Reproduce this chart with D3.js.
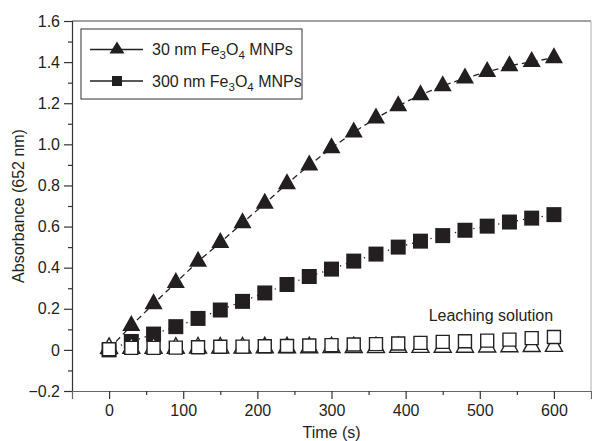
<!DOCTYPE html>
<html>
<head>
<meta charset="utf-8">
<script src="https://cdn.jsdelivr.net/npm/d3@7"></script>
<style>
body { margin: 0; background: #fff; }
text { font-family: "Liberation Sans", Arial, sans-serif; fill: #231f20; }
</style>
</head>
<body>
<script>
// values
var time_s = [0, 30, 60, 90, 120, 150, 180, 210, 240, 270, 300, 330, 360, 390, 420, 450, 480, 510, 540, 570, 600];
var abs_30nm = [0.005, 0.118, 0.224, 0.327, 0.430, 0.522, 0.618, 0.712, 0.808, 0.899, 0.982, 1.059, 1.127, 1.187, 1.241, 1.284, 1.322, 1.353, 1.382, 1.402, 1.421];
var abs_300nm = [0.0, 0.041, 0.077, 0.113, 0.153, 0.194, 0.236, 0.277, 0.318, 0.357, 0.393, 0.432, 0.466, 0.500, 0.529, 0.556, 0.582, 0.602, 0.622, 0.641, 0.658];
var leach_30nm = [0.008, 0.009, 0.009, 0.009, 0.010, 0.010, 0.010, 0.011, 0.011, 0.011, 0.012, 0.012, 0.012, 0.013, 0.013, 0.014, 0.014, 0.015, 0.016, 0.017, 0.018];
var leach_300nm = [0.003, 0.010, 0.010, 0.011, 0.013, 0.015, 0.016, 0.018, 0.019, 0.021, 0.023, 0.026, 0.028, 0.031, 0.034, 0.039, 0.042, 0.045, 0.050, 0.057, 0.063];
var y_ticks = [-0.2, 0, 0.2, 0.4, 0.6, 0.8, 1.0, 1.2, 1.4, 1.6];
var y_minor = [-0.1, 0.1, 0.3, 0.5, 0.7, 0.9, 1.1, 1.3, 1.5];
var x_ticks = [0, 100, 200, 300, 400, 500, 600];
var x_minor = [50, 150, 250, 350, 450, 550];
var legend_labels = [["30 nm Fe", "3", "O", "4", " MNPs"], ["300 nm Fe", "3", "O", "4", " MNPs"]];
var note_text = "Leaching solution";

var W = 592, H = 441;
var p_left = 72, p_right = 591, p_top = 21, p_bottom = 391;
var fs = '16px';

var svg = d3.select('body').append('svg').attr('width', W).attr('height', H);

var xScale = d3.scaleLinear().domain([-50, 650]).range([p_left, p_right]);
var yScale = d3.scaleLinear().domain([-0.2, 1.6]).range([p_bottom, p_top]);

function fmtY(d) {
	if (d === 0) return '0';
	return d < 0 ? '\u2212' + Math.abs(d).toFixed(1) : d.toFixed(1);
}

// frame: top and right borders
svg.append('line').attr('x1', p_left).attr('x2', p_right).attr('y1', p_top).attr('y2', p_top)
	.attr('stroke', '#444').attr('stroke-width', 1.2);
svg.append('line').attr('x1', p_right).attr('x2', p_right).attr('y1', p_top).attr('y2', p_bottom)
	.attr('stroke', '#bbb').attr('stroke-width', 1.2);

// y axis
var yAxis = svg.append('g').attr('transform', 'translate(' + p_left + ',0)')
	.call(d3.axisLeft(yScale).tickValues(y_ticks).tickSize(8).tickPadding(4).tickFormat(fmtY));
svg.append('g').attr('transform', 'translate(' + p_left + ',0)')
	.call(d3.axisLeft(yScale).tickValues(y_minor).tickSize(4).tickFormat(''))
	.select('.domain').remove();

// x axis
var xAxis = svg.append('g').attr('transform', 'translate(0,' + p_bottom + ')')
	.call(d3.axisBottom(xScale).tickValues(x_ticks).tickSize(8).tickPadding(6));
svg.append('g').attr('transform', 'translate(0,' + p_bottom + ')')
	.call(d3.axisBottom(xScale).tickValues(x_minor).tickSize(4).tickFormat(''))
	.select('.domain').remove();

svg.selectAll('.domain').attr('stroke', '#333').attr('stroke-width', 1.2);
xAxis.select('.domain').attr('stroke', '#666');
svg.selectAll('.tick line').attr('stroke', '#333').attr('stroke-width', 1.2);
svg.selectAll('.tick text').attr('font-size', fs).attr('fill', '#231f20')
	.attr('font-family', '"Liberation Sans", Arial, sans-serif');

// axis titles
svg.append('text').text('Time (s)')
	.attr('x', (p_left + p_right) / 2).attr('y', 438).attr('text-anchor', 'middle').attr('font-size', fs);
svg.append('text').text('Absorbance (652 nm)')
	.attr('transform', 'translate(24,' + ((p_top + p_bottom) / 2) + ') rotate(-90)')
	.attr('text-anchor', 'middle').attr('font-size', fs);

// markers
function tri(w, h) {
	return 'M0,' + (-2 * h / 3) + 'L' + (w / 2) + ',' + (h / 3) + 'L' + (-w / 2) + ',' + (h / 3) + 'Z';
}
function sq(s) {
	return 'M' + (-s / 2) + ',' + (-s / 2) + 'h' + s + 'v' + s + 'h' + (-s) + 'Z';
}

var plot = svg.append('g');

function pts(vals) {
	return time_s.map(function(t, i) { return [t, vals[i]]; });
}

var line = d3.line().x(function(d) { return xScale(d[0]); }).y(function(d) { return yScale(d[1]); });

plot.append('path').datum(pts(abs_30nm)).attr('d', line)
	.attr('fill', 'none').attr('stroke', '#222').attr('stroke-width', 1.3).attr('stroke-dasharray', '6,4');
plot.append('path').datum(pts(abs_300nm)).attr('d', line)
	.attr('fill', 'none').attr('stroke', '#222').attr('stroke-width', 1.3).attr('stroke-dasharray', '1.3,5');

plot.selectAll('.tri30').data(pts(abs_30nm)).enter().append('path')
	.attr('class', 'tri30')
	.attr('transform', function(d) { return 'translate(' + xScale(d[0]) + ',' + yScale(d[1]) + ')'; })
	.attr('d', tri(18, 16)).attr('fill', '#231f20');

plot.selectAll('.sq300').data(pts(abs_300nm)).enter().append('path')
	.attr('class', 'sq300')
	.attr('transform', function(d) { return 'translate(' + xScale(d[0]) + ',' + yScale(d[1]) + ')'; })
	.attr('d', sq(15)).attr('fill', '#231f20');

plot.selectAll('.tri_leach').data(pts(leach_30nm)).enter().append('path')
	.attr('class', 'tri_leach')
	.attr('transform', function(d) { return 'translate(' + xScale(d[0]) + ',' + yScale(d[1]) + ')'; })
	.attr('d', tri(17, 15.5)).attr('fill', '#fff').attr('stroke', '#222').attr('stroke-width', 1.4);

plot.selectAll('.sq_leach').data(pts(leach_300nm)).enter().append('path')
	.attr('class', 'sq_leach')
	.attr('transform', function(d) { return 'translate(' + xScale(d[0]) + ',' + yScale(d[1]) + ')'; })
	.attr('d', sq(13)).attr('fill', '#fff').attr('stroke', '#222').attr('stroke-width', 1.4);

svg.append('text').text(note_text)
	.attr('x', xScale(431)).attr('y', yScale(0.141)).attr('font-size', fs);

// legend
var legend = svg.append('g');
legend.append('rect').attr('x', 81).attr('y', 29).attr('width', 221).attr('height', 70)
	.attr('fill', '#fff').attr('stroke', '#333').attr('stroke-width', 1);

legend_labels.forEach(function(lab, i) {
	var cy = 49.5 + i * 31.5;
	legend.append('line').attr('x1', 90).attr('x2', 143).attr('y1', cy).attr('y2', cy)
		.attr('stroke', '#222').attr('stroke-width', 1.3);
	legend.append('path').attr('transform', 'translate(117,' + cy + ')')
		.attr('d', i === 0 ? tri(15, 12) : sq(10)).attr('fill', '#231f20');
	var t = legend.append('text').attr('x', 152).attr('y', cy + 5.5).attr('font-size', fs);
	t.append('tspan').text(lab[0]);
	t.append('tspan').text(lab[1]).attr('font-size', '11.5px').attr('dy', 4);
	t.append('tspan').text(lab[2]).attr('dy', -4);
	t.append('tspan').text(lab[3]).attr('font-size', '11.5px').attr('dy', 4);
	t.append('tspan').text(lab[4]).attr('dy', -4);
});
</script>
</body>
</html>
